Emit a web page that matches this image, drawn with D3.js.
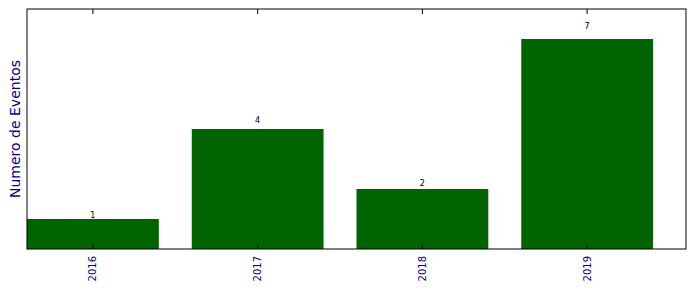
<!DOCTYPE html>
<html>
<head>
<meta charset="utf-8">
<script src="https://cdn.jsdelivr.net/npm/d3@7"></script>
<style>
  body { margin: 0; background: #fff; }
  text { font-family: "DejaVu Sans", sans-serif; }
</style>
</head>
<body>
<div id="chart"></div>
<script>
const years = ['2016', '2017', '2018', '2019'];
const counts = [1, 4, 2, 7];

const width = 696, height = 292;
const margin = {top: 9, right: 10, bottom: 43, left: 27};
const innerW = width - margin.left - margin.right;
const innerH = height - margin.top - margin.bottom;

const svg = d3.select('#chart').append('svg')
    .attr('width', width)
    .attr('height', height);

const g = svg.append('g')
    .attr('transform', `translate(${margin.left},${margin.top})`);

// bar centres sit on integer positions, bars are 0.8 wide
const x = d3.scaleLinear()
    .domain([-0.4, years.length - 0.4])
    .range([0, innerW]);

const y = d3.scaleLinear()
    .domain([0, 8])
    .range([innerH, 0]);

g.selectAll('rect.bar')
    .data(counts)
    .join('rect')
    .classed('bar', true)
    .attr('x', (d, i) => x(i - 0.4))
    .attr('width', (d, i) => x(i + 0.4) - x(i - 0.4))
    .attr('y', d => y(d))
    .attr('height', d => y(0) - y(d))
    .attr('fill', '#006400');

// value labels, placed at 1.05 * height like the original
g.selectAll('text.value')
    .data(counts)
    .join('text')
    .classed('value', true)
    .attr('x', (d, i) => x(i))
    .attr('y', d => y(d * 1.05))
    .attr('text-anchor', 'middle')
    .attr('font-size', 8)
    .attr('fill', '#000')
    .text(d => d);

// inward ticks on bottom and top
const ticks = years.map((d, i) => i);
g.selectAll('line.tickb')
    .data(ticks)
    .join('line')
    .attr('x1', d => x(d)).attr('x2', d => x(d))
    .attr('y1', innerH).attr('y2', innerH - 5)
    .attr('stroke', '#000');
g.selectAll('line.tickt')
    .data(ticks)
    .join('line')
    .attr('x1', d => x(d)).attr('x2', d => x(d))
    .attr('y1', 0).attr('y2', 5)
    .attr('stroke', '#000');

// frame
g.append('rect')
    .attr('x', 0).attr('y', 0)
    .attr('width', innerW).attr('height', innerH)
    .attr('fill', 'none')
    .attr('stroke', '#000')
    .attr('stroke-width', 1);

// rotated year labels
g.selectAll('text.year')
    .data(years)
    .join('text')
    .classed('year', true)
    .attr('transform', (d, i) => `translate(${x(i) + 3.5},${innerH + 7}) rotate(-90)`)
    .attr('text-anchor', 'end')
    .attr('font-size', 10)
    .attr('fill', '#00008b')
    .text(d => d);

svg.append('text')
    .attr('transform', `translate(19.5,${margin.top + innerH / 2}) rotate(-90)`)
    .attr('text-anchor', 'middle')
    .attr('font-size', 14)
    .attr('fill', '#00008b')
    .text('Numero de Eventos');
</script>
</body>
</html>
